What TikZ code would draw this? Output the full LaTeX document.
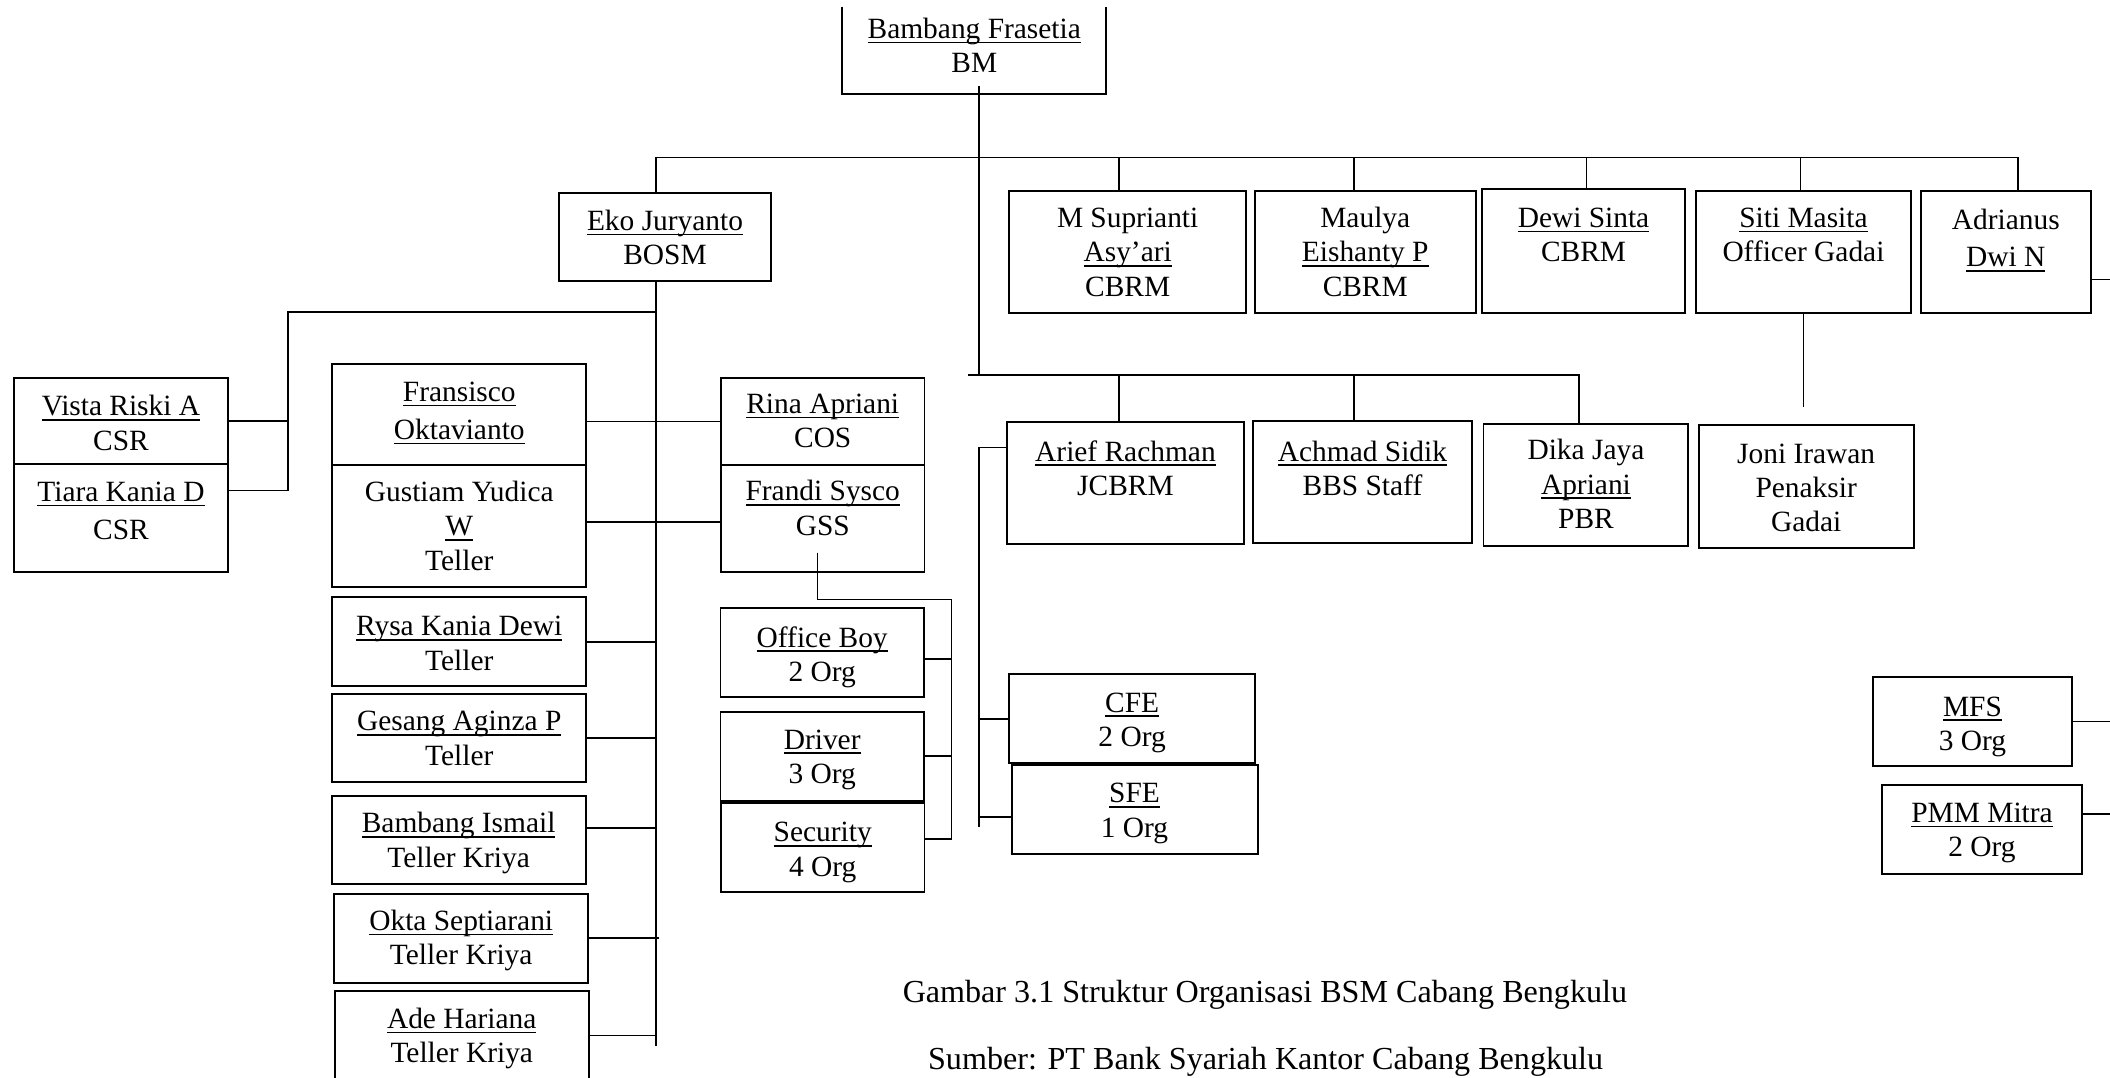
\documentclass[tikz,border=0pt]{standalone}
\usepackage{fontspec}
\setmainfont{Liberation Serif}
\newcommand\boxfont{\fontsize{15.3}{17.85}\selectfont}
\newcommand\capfont{\fontsize{16.7}{20}\selectfont}
\newcommand\un[1]{\leavevmode\setbox0\hbox{#1}\rlap{\rule[-2.5pt]{\wd0}{0.85pt}}\box0}
\tikzset{
  box/.style={draw, line width=1pt, inner sep=0pt, outer sep=0pt, anchor=north west},
  link/.style={line width=0.85pt},
}
% #1 extra style, #2 name, #3 x1, #4 y1, #5 x2, #6 y2, #7 first baseline, #8 text
\newcommand\bx[8][]{%
  \pgfmathsetlengthmacro\bw{(#5-#3)*0.7pt}%
  \pgfmathsetlengthmacro\bh{(#6-#4)*0.7pt}%
  \pgfmathsetlengthmacro\bp{(#7-#4)*0.7pt}%
  \node[box, #1, minimum width=\bw, minimum height=\bh] (#2) at (#3,#4)
    {\parbox[c][\bh][t]{\bw}{\centering\boxfont\vspace*{\dimexpr\bp-\ht\strutbox\relax}\strut#8\par}};}
\begin{document}
\begin{tikzpicture}[x=0.7pt,y=-0.7pt]
\useasboundingbox (0,0) rectangle (1568,801);

% ---------- boxes ----------
\bx[draw=none]{bm}{626}{5}{822}{70}{28.5}{\un{Bambang Frasetia}\\BM}
\draw[line width=1pt] (bm.north west) -- (bm.south west) -- (bm.south east) -- (bm.north east);

\bx{eko}{415.7}{143.4}{572.7}{208.8}{171.4}{\un{Eko Juryanto}\\BOSM}
\bx{msup}{750}{141.7}{926}{232.8}{169.2}{M Suprianti\\\un{Asy’ari}\\CBRM}
\bx{maul}{932.6}{141.7}{1096.5}{232.8}{169.2}{Maulya\\\un{Eishanty P}\\CBRM}
\bx{dewi}{1101.5}{140.7}{1252}{232.3}{169}{\un{Dewi Sinta}\\CBRM}
\bx{siti}{1260.4}{141.7}{1420}{232.3}{169}{\un{Siti Masita}\\Officer Gadai}
\bx{adri}{1427.5}{141.7}{1553.6}{232.4}{170.2}{Adrianus\\[1.8pt]\un{Dwi N}}

\bx{vista}{10.3}{280.6}{169.5}{345}{309}{\un{Vista Riski A}\\CSR}
\bx{tiara}{10.3}{345}{169.5}{424.8}{372.8}{\un{Tiara Kania D}\\[2pt]CSR}

\bx{fran}{247}{270.5}{435.6}{345.6}{298.5}{\un{Fransisco}\\[1.8pt]\un{Oktavianto}}
\bx{gust}{247}{345.6}{435.6}{436}{372.8}{Gustiam Yudica\\\un{W}\\Teller}
\bx{rysa}{247}{443.9}{435.6}{509.8}{472.6}{\un{Rysa Kania Dewi}\\Teller}
\bx{gesa}{247}{515.7}{435.6}{581.3}{543}{\un{Gesang Aginza P}\\Teller}
\bx{bism}{246.5}{591.5}{435.2}{657.2}{618.8}{\un{Bambang Ismail}\\Teller Kriya}
\bx{okta}{248.5}{664.3}{437}{730.2}{691.6}{\un{Okta Septiarani}\\Teller Kriya}
\bx{ade}{248.8}{736.2}{437.5}{803}{764.2}{\un{Ade Hariana}\\Teller Kriya}

\bx{rina}{535.8}{280.6}{687}{345.6}{307.2}{\un{Rina Apriani}\\COS}
\bx{frandi}{535.8}{345.6}{687}{424.8}{372.3}{\un{Frandi Sysco}\\GSS}

\bx{ob}{535.4}{452}{686.6}{518}{481}{\un{Office Boy}\\2 Org}
\bx{drv}{535.4}{528.8}{686.6}{595}{556.8}{\un{Driver}\\3 Org}
\bx{sec}{535.8}{597}{687}{663}{625.5}{\un{Security}\\4 Org}

\bx{arief}{748.4}{313.6}{924.3}{404.5}{342.6}{\un{Arief Rachman}\\JCBRM}
\bx{achm}{931}{312.9}{1094}{403.7}{342.6}{\un{Achmad Sidik}\\BBS Staff}
\bx{dika}{1102.4}{315}{1254.7}{405.5}{341.8}{Dika Jaya\\\un{Apriani}\\PBR}
\bx{joni}{1262.4}{316}{1422}{407}{344.3}{Joni Irawan\\Penaksir\\Gadai}

\bx{cfe}{750}{501}{932.6}{567.2}{529.3}{\un{CFE}\\2 Org}
\bx{sfe}{751.7}{568.5}{934.5}{634.4}{596.5}{\un{SFE}\\1 Org}

\bx{mfs}{1391.6}{503.3}{1540}{569.2}{532.1}{\un{MFS}\\3 Org}
\bx{pmm}{1398.6}{583.6}{1547.2}{649.5}{611.3}{\un{PMM Mitra}\\2 Org}

% ---------- captions ----------
\node[font=\capfont, anchor=base, inner sep=0pt] (cap1) at (940,745.1)
  {Gambar 3.1 Struktur Organisasi BSM Cabang Bengkulu};
\node[font=\capfont, anchor=base, inner sep=0pt] (cap2) at (940.5,794.6)
  {Sumber: PT Bank Syariah Kantor Cabang Bengkulu};

% ---------- connectors ----------
\coordinate (bmv) at (727.7,64);
\coordinate (b2L) at (719.4,278.7);
\coordinate (b2R) at (1173.5,278.7);
\coordinate (b1L) at (487.6,117);
\coordinate (b1R) at (1499.6,117);
\coordinate (edge) at (1575,0);

\draw[link] (bmv) -- (bmv |- b2L);
\draw[link] (b1L) -- (b1R);
\draw[link] (b1L) -- (b1L |- eko.north);
\foreach \n/\x in {msup/831.4, maul/1006, dewi/1179, siti/1338, adri/1499.6}{
  \coordinate (d\n) at (\x,117);
  \draw[link] (d\n) -- (d\n |- \n.north);
}

% second bus
\draw[link] (b2L) -- (b2R) -- (b2R |- dika.north);
\draw[link] (dmsup |- b2L) -- (dmsup |- arief.north);
\draw[link] (dmaul |- b2L) -- (dmaul |- achm.north);

% Arief branch
\coordinate (av) at (727.7,614.3);
\draw[link] ([yshift=18.6pt]arief.west) -| (av);
\draw[link] (cfe.west) -- (cfe.west -| av);
\path ([yshift=-3.9pt]sfe.west) coordinate (sy);
\draw[link] (sy) -- (sy -| av);

% Siti -> Joni
\coordinate (sj) at (1338,302.7);
\draw[link] (siti.south) -- (siti.south |- sj);

% right edge stubs
\path ([yshift=-14.4pt]adri.east) coordinate (ay);
\draw[link] (ay) -- (ay -| edge);
\draw[link] (mfs.east) -- (mfs.east -| edge);
\path ([yshift=8pt]pmm.east) coordinate (py);
\draw[link] (py) -- (py -| edge);

% Eko trunk
\coordinate (ekoEnd) at (487.6,777.3);
\draw[link] (eko.south -| b1L) -- (ekoEnd);
\coordinate (lbR) at (487.6,232);
\coordinate (lbL) at (214,232);
\draw[link] (lbR) -- (lbL) |- ([yshift=14.2pt]tiara.east);
\draw[link] (vista.east) -- (vista.east -| lbL);

\draw[link] (fran.east |- rina.west) -- (rina.west);
\path ([yshift=-2pt]frandi.west) coordinate (gy);
\draw[link] (gust.east |- gy) -- (gy);

\draw[link] (rysa.east) -- (rysa.east -| b1L);
\draw[link] (gesa.east) -- (gesa.east -| b1L);
\path ([yshift=6.4pt]bism.east) coordinate (biy);
\draw[link] (biy) -- (biy -| b1L);
\draw[link] (okta.east) -- ([xshift=1.3pt]okta.east -| b1L);
\draw[link] (ade.east) -- (ade.east -| b1L);

% Frandi group
\coordinate (fg1) at (607.6,410.7);
\coordinate (fg2) at (707,445.4);
\draw[link] (fg1) |- (fg2) |- ([yshift=4.5pt]sec.east);
\path ([yshift=-3.3pt]ob.east) coordinate (oy);
\draw[link] (oy) -- (oy -| fg2);
\draw[link] (drv.east) -- (drv.east -| fg2);
\end{tikzpicture}
\end{document}
